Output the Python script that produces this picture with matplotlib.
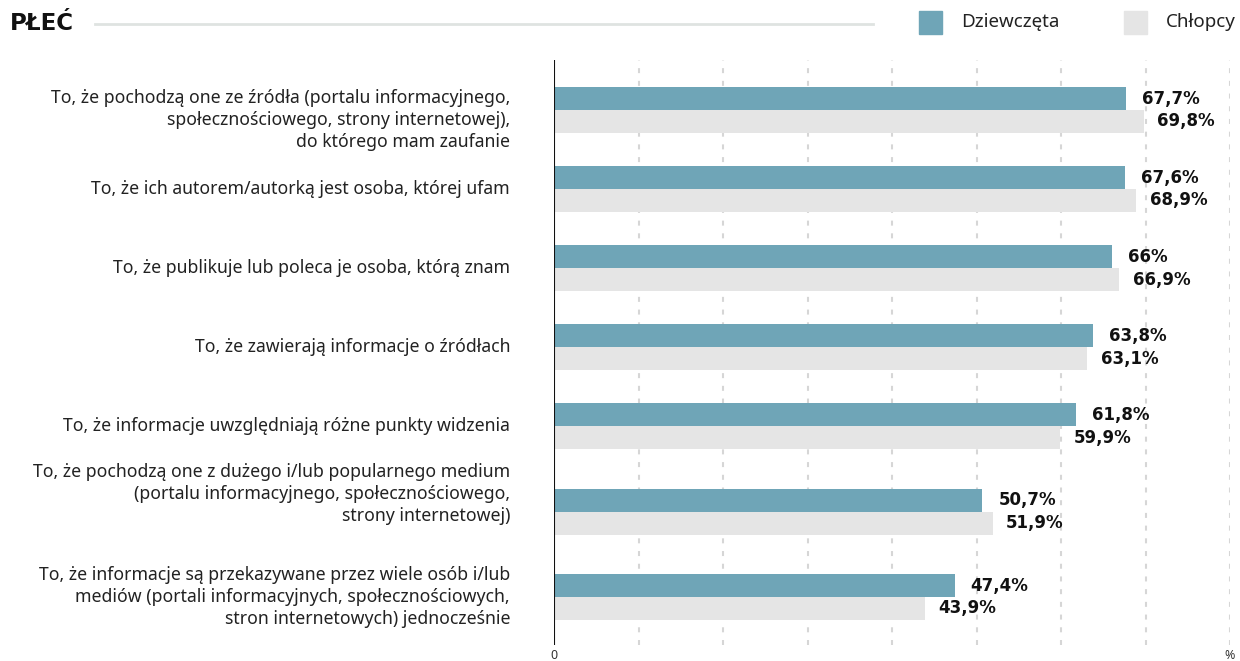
import numpy as np
import matplotlib
matplotlib.use('Agg')
import matplotlib.pyplot as plt
from matplotlib.patches import Rectangle
from matplotlib.lines import Line2D

plt.rcParams['font.family'] = ['Noto Sans', 'DejaVu Sans']

# data
categories = [
    "To, że pochodzą one ze źródła (portalu informacyjnego,\nspołecznościowego, strony internetowej),\ndo którego mam zaufanie",
    "To, że ich autorem/autorką jest osoba, której ufam",
    "To, że publikuje lub poleca je osoba, którą znam",
    "To, że zawierają informacje o źródłach",
    "To, że informacje uwzględniają różne punkty widzenia",
    "To, że pochodzą one z dużego i/lub popularnego medium\n(portalu informacyjnego, społecznościowego,\nstrony internetowej)",
    "To, że informacje są przekazywane przez wiele osób i/lub\nmediów (portali informacyjnych, społecznościowych,\nstron internetowych) jednocześnie",
]
girls = [67.7, 67.6, 66.0, 63.8, 61.8, 50.7, 47.4]
boys = [69.8, 68.9, 66.9, 63.1, 59.9, 51.9, 43.9]
girls_labels = ["67,7%", "67,6%", "66%", "63,8%", "61,8%", "50,7%", "47,4%"]
boys_labels = ["69,8%", "68,9%", "66,9%", "63,1%", "59,9%", "51,9%", "43,9%"]
series_names = ["Dziewczęta", "Chłopcy"]
title = "PŁEĆ"

# layout
row_gap = [0, 1, 1, 1, 1, 1.08, 1.08]
label_shift = [0.13, 0, 0, 0, 0, -0.22, 0]
bar_h = 0.29
c_girls = '#6fa5b7'
c_boys = '#e5e5e5'

W, H = 1240, 661
fig = plt.figure(figsize=(W / 100, H / 100), dpi=100)
ax = fig.add_axes([554 / W, 1 - 645 / H, 676 / W, 585 / H])

pos = np.cumsum(row_gap)
ax.barh(pos - bar_h / 2, girls, height=bar_h, color=c_girls, zorder=2)
ax.barh(pos + bar_h / 2, boys, height=bar_h, color=c_boys, zorder=2)

vfont = dict(va='center', ha='left', fontsize=12, fontweight='bold',
             color='#111111', family='DejaVu Sans')
for p, g, b, gl, bl in zip(pos, girls, boys, girls_labels, boys_labels):
    ax.text(g + 1.9, p - bar_h / 2, gl, **vfont)
    ax.text(b + 1.6, p + bar_h / 2, bl, **vfont)

for p, lab, s in zip(pos, categories, label_shift):
    ax.text(-5.2, p + s, lab, ha='right', va='center', fontsize=12.7,
            linespacing=1.27, color='#222222')

ax.set_xlim(0, 80)
ax.set_ylim(6.16 + 0.607, -0.632)
for xv in range(10, 81, 10):
    ax.axvline(xv, color='#d6d6d6', lw=1.5, ls=(0, (2.4, 3.7)), zorder=1)
ax.axvline(0, color='#111111', lw=1.5, zorder=3)

for sp in ax.spines.values():
    sp.set_visible(False)
ax.set_yticks([])
ax.set_xticks([0, 80])
ax.set_xticklabels(["0", "%"], fontsize=9, color='#333333')
ax.tick_params(axis='x', length=0, pad=3)

# header
fig.text(10 / W, 1 - 23 / H, title, fontsize=16.5, fontweight='heavy',
         va='center', ha='left', color='#111111', family='DejaVu Sans')
fig.add_artist(Line2D([95 / W, 873 / W], [1 - 24 / H, 1 - 24 / H],
                      color='#dfe3e1', lw=2))

for x0, name, col in [(919, series_names[0], c_girls), (1124, series_names[1], c_boys)]:
    fig.add_artist(Rectangle((x0 / W, 1 - 34 / H), 23 / W, 23 / H,
                             color=col, transform=fig.transFigure))
    fig.text((x0 + 42) / W, 1 - 22 / H, name, fontsize=13.5, va='center',
             ha='left', color='#222222')

fig.savefig('out.png', dpi=100)
